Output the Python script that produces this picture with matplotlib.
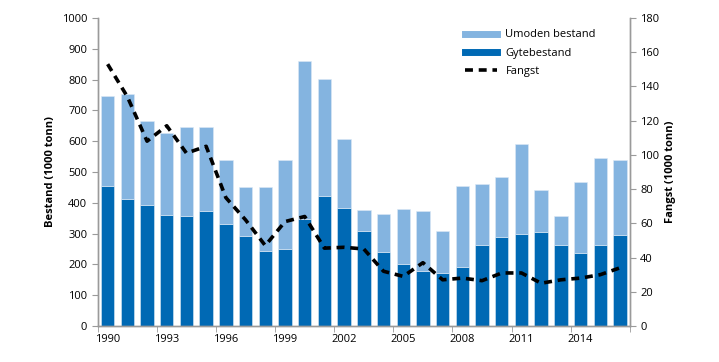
import numpy as np
import matplotlib.pyplot as plt

plt.rcParams['font.family'] = ['Open Sans', 'DejaVu Sans']

# data
years = list(range(1990, 2017))
total = [748, 752, 665, 625, 645, 645, 540, 452, 450, 540, 860, 802, 606, 378,
         365, 380, 373, 310, 455, 460, 483, 592, 442, 358, 468, 546, 540]
gyte = [455, 412, 392, 360, 356, 372, 332, 292, 245, 250, 348, 422, 384, 308,
        240, 200, 180, 172, 193, 262, 290, 298, 306, 262, 236, 264, 296]
fangst = [153, 134, 108, 117, 101, 105, 75, 62, 47, 61, 64, 45.5, 46, 45,
          32, 29, 37, 27, 28, 26.5, 31, 31, 25, 27, 28, 30, 34]

umoden = np.array(total) - np.array(gyte)
x = np.arange(len(years))

dark = '#0069b4'
light = '#84b4e0'
grey = '#9a9a9a'

fig = plt.figure(figsize=(7.19, 3.62), dpi=100)
ax = fig.add_axes([0.136, 0.0994, 0.740, 0.851])

ax.bar(x, gyte, width=0.68, color=dark, edgecolor='#dce9f5', linewidth=0.4, label='Gytebestand')
ax.bar(x, umoden, bottom=gyte, width=0.68, color=light, edgecolor='#dce9f5', linewidth=0.4,
       label='Umoden bestand')

ax.set_xlim(-0.5, len(years) - 0.5)
ax.set_ylim(0, 1000)
ax.set_yticks(range(0, 1001, 100))
ax.set_xticks(x[::3])
ax.set_xticklabels([str(y) for y in years[::3]])
ax.set_xticks(np.arange(-0.5, len(years), 3), minor=True)
ax.tick_params(axis='x', which='major', length=0, labelsize=8, pad=6)
ax.tick_params(axis='x', which='minor', length=4, color=grey, direction='out')
ax.tick_params(axis='y', length=4, color=grey, labelsize=8)
ax.set_ylabel('Bestand (1000 tonn)', fontsize=8, fontweight='bold')

ax2 = ax.twinx()
ax2.plot(x, fangst, color='black', linestyle=(0, (2.2, 1.6)), linewidth=2.6, label='Fangst')
ax2.set_ylim(0, 180)
ax2.set_yticks(range(0, 181, 20))
ax2.tick_params(axis='y', length=4, color=grey, labelsize=8)
ax2.set_ylabel('Fangst (1000 tonn)', fontsize=8, fontweight='bold')

for a in (ax, ax2):
    a.spines['top'].set_visible(False)
    for s in ('left', 'right', 'bottom'):
        a.spines[s].set_color(grey)
        a.spines[s].set_linewidth(1.0)

# legend with line-style handles
h = [plt.Line2D([], [], color=light, linewidth=5),
     plt.Line2D([], [], color=dark, linewidth=5),
     plt.Line2D([], [], color='black', linestyle=(0, (2.2, 1.6)), linewidth=2.6)]
ax2.legend(h, ['Umoden bestand', 'Gytebestand', 'Fangst'], loc='upper right',
           bbox_to_anchor=(0.955, 0.995), frameon=False, fontsize=8, handlelength=2.8,
           labelspacing=0.65)

fig.savefig('out.png', dpi=100)
